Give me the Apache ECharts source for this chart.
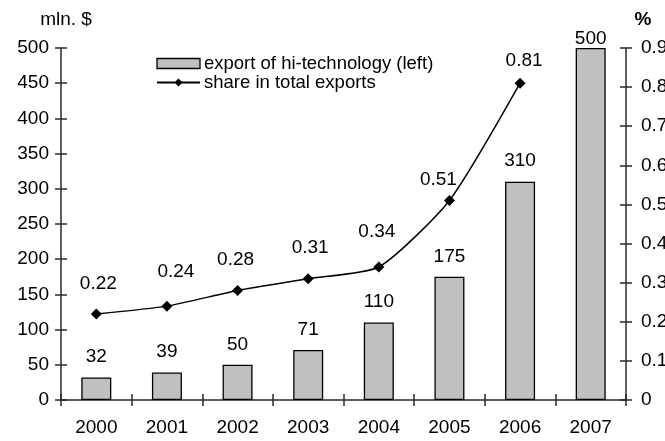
<!DOCTYPE html>
<html>
<head>
<meta charset="utf-8">
<script src="https://cdn.jsdelivr.net/npm/echarts@6/dist/echarts.min.js"></script>
<style>
  html, body { margin: 0; padding: 0; background: #fff; }
</style>
</head>
<body>
<div id="chart" style="width: 665px; height: 441px;"></div>
<script>
// data
const years = ['2000', '2001', '2002', '2003', '2004', '2005', '2006', '2007'];
const exportHiTech = [32, 39, 50, 71, 110, 175, 310, 500];     // mln. $, left axis
const shareTotal = [0.22, 0.24, 0.28, 0.31, 0.34, 0.51, 0.81];  // %, right axis (no 2007)

// where the line labels sit relative to their point (px)
const shareLabelOffset = [[2, -30], [9, -34], [-2, -31], [2, -31], [-2, -35], [-11, -21], [4, -22]];

const font = 'Liberation Sans, Arial, sans-serif';
const fs = 19;
const axisColor = '#2a2a2a';

const chart = echarts.init(document.getElementById('chart'));

const option = {
  animation: false,
  textStyle: { fontFamily: font, color: '#000' },
  // right-hand tick labels run off the page, as in the source picture
  grid: { left: 61, right: 39, top: 48, bottom: 41, containLabel: false, outerBoundsMode: 'none' },
  legend: {
    orient: 'vertical',
    left: 151,
    top: 49,
    itemWidth: 43,
    itemHeight: 10,
    itemGap: 0,
    itemStyle: { borderWidth: 1.3, borderColor: '#000' },
    textStyle: { fontFamily: font, fontSize: 18.5, color: '#000', padding: [0, 0, 0, -1] },
    data: [
      { name: 'export of hi-technology (left)', icon: 'rect' },
      { name: 'share in total exports', itemStyle: { borderWidth: 0 } }
    ]
  },
  xAxis: [
    {
      type: 'category',
      data: years,
      axisLine: { lineStyle: { color: axisColor, width: 1.5 } },
      axisTick: { show: true, length: 6, lineStyle: { color: axisColor, width: 1.5 } },
      axisLabel: { fontSize: fs, color: '#000', margin: 18, fontFamily: font }
    },
    {
      // inner half of the crossing ticks
      type: 'category',
      data: years,
      position: 'bottom',
      axisLine: { show: false },
      axisTick: { show: true, inside: true, length: 6, lineStyle: { color: axisColor, width: 1.5 } },
      axisLabel: { show: false }
    }
  ],
  yAxis: [
    {
      type: 'value',
      min: 0,
      max: 500,
      interval: 50,
      name: 'mln. $',
      nameLocation: 'end',
      nameGap: 19,
      nameTextStyle: { fontSize: fs, color: '#000', fontFamily: font, padding: [0, 0, 0, 10] },
      splitLine: { show: false },
      axisLine: { show: true, lineStyle: { color: axisColor, width: 1.5 } },
      axisTick: { show: true, length: 6, lineStyle: { color: axisColor, width: 1.5 } },
      axisLabel: { fontSize: fs, color: '#000', margin: 12, fontFamily: font }
    },
    {
      type: 'value',
      min: 0,
      max: 0.9,
      interval: 0.1,
      position: 'right',
      name: '%',
      nameLocation: 'end',
      nameGap: 19,
      nameTextStyle: { fontSize: fs, fontWeight: 'bold', color: '#000', fontFamily: font, padding: [0, 0, 0, 34] },
      splitLine: { show: false },
      axisLine: { show: true, lineStyle: { color: axisColor, width: 1.5 } },
      axisTick: { show: true, length: 6, lineStyle: { color: axisColor, width: 1.5 } },
      axisLabel: { fontSize: fs, color: '#000', margin: 15, fontFamily: font }
    },
    {
      // inner halves of the crossing ticks, left
      type: 'value', min: 0, max: 500, interval: 50, position: 'left',
      splitLine: { show: false }, axisLine: { show: false }, axisLabel: { show: false },
      axisTick: { show: true, inside: true, length: 6, lineStyle: { color: axisColor, width: 1.5 } }
    },
    {
      // inner halves of the crossing ticks, right
      type: 'value', min: 0, max: 0.9, interval: 0.1, position: 'right',
      splitLine: { show: false }, axisLine: { show: false }, axisLabel: { show: false },
      axisTick: { show: true, inside: true, length: 6, lineStyle: { color: axisColor, width: 1.5 } }
    }
  ],
  series: [
    {
      name: 'export of hi-technology (left)',
      type: 'bar',
      yAxisIndex: 0,
      barWidth: 30,
      itemStyle: { color: '#c0c0c0', borderColor: '#000', borderWidth: 1.3 },
      label: { show: true, position: 'top', distance: 11, fontSize: fs, color: '#000', fontFamily: font },
      data: exportHiTech.map((v, i) => i === exportHiTech.length - 1
        ? { value: v, label: { distance: 0 } }
        : v)
    },
    {
      name: 'share in total exports',
      type: 'line',
      yAxisIndex: 1,
      smooth: 0.2,
      symbol: 'diamond',
      symbolSize: 11,
      lineStyle: { color: '#000', width: 1.5 },
      itemStyle: { color: '#000' },
      label: { show: true, position: 'inside', fontSize: fs, color: '#000', fontFamily: font },
      data: shareTotal.map((v, i) => ({ value: v, label: { offset: shareLabelOffset[i] } }))
    }
  ]
};

chart.setOption(option);
</script>
</body>
</html>
